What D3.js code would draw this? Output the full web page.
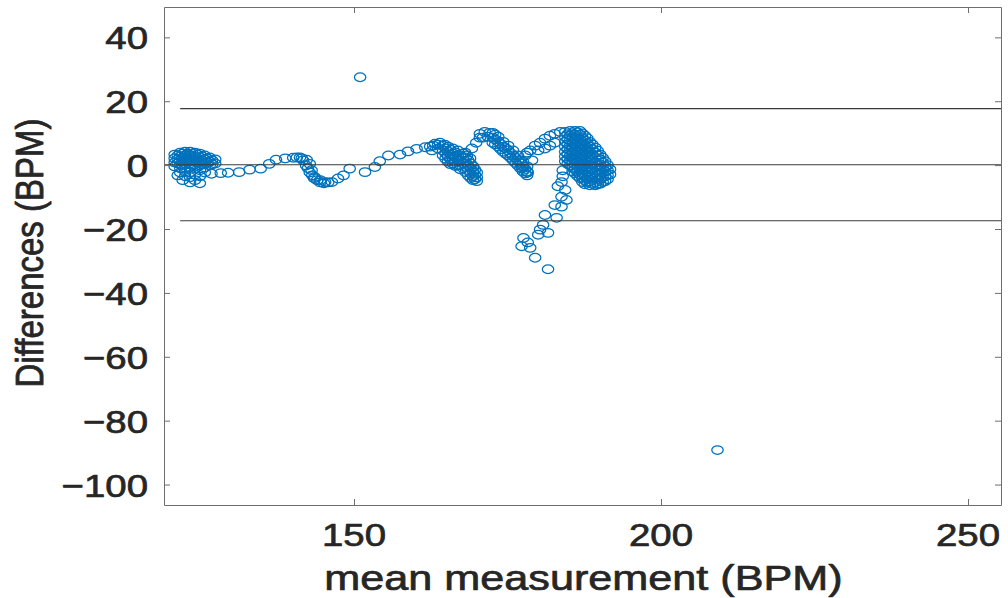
<!DOCTYPE html>
<html><head><meta charset="utf-8">
<script src="https://cdn.jsdelivr.net/npm/d3@7"></script>
<style>body{margin:0;background:#fff}svg{display:block}</style>
</head><body>
<svg id="chart" width="1008" height="598"></svg>
<script>
// ---- axis settings ----
const xTicks = [150, 200, 250];
const yTicks = [-100, -80, -60, -40, -20, 0, 20, 40];
const xDomain = [119.06, 255.37];
const yDomain = [-106.4, 49.5];
const xLabel = "mean measurement (BPM)";
const yLabel = "Differences (BPM)";

// ---- Bland-Altman reference lines ----
const meanDiff = 0.1;
const upperLoA = 17.7;
const lowerLoA = -17.4;
const loaStart = 121.7;

// ---- data: [mean measurement, difference] ----
const startCluster = [
  [120.8,3.3],[120.8,2.1],[120.8,0.8],[120.8,-0.4],
  [121.7,3.9],[121.7,2.7],[121.7,1.5],[121.7,0.2],[121.7,-1.0],[121.7,-2.3],
  [122.5,4.2],[122.5,3.0],[122.5,1.8],[122.5,0.5],[122.5,-0.7],[122.5,-2.0],[122.5,-3.5],
  [123.3,4.2],[123.3,3.0],[123.3,1.8],[123.3,0.5],[123.3,-0.7],[123.3,-2.3],[123.3,-3.8],
  [124.1,3.9],[124.1,2.7],[124.1,1.5],[124.1,0.2],[124.1,-1.0],[124.1,-2.9],[124.1,-4.7],
  [124.9,3.6],[124.9,2.4],[124.9,1.1],[124.9,-0.1],[124.9,-1.6],[124.9,-3.5],[124.9,-5.7],
  [125.7,3.0],[125.7,1.8],[125.7,0.5],[125.7,-0.7],[125.7,-2.3],
  [126.5,2.4],[126.5,1.1],[126.5,-0.1],
  [127.4,1.8],[127.4,0.5],
  [121.3,-3.2],[122.1,-4.7],[123.3,-5.4],
  [121.3,3.0],[122.1,3.6],[122.1,2.4],[122.9,3.6],[122.9,2.4],[122.9,1.2],
  [123.7,3.6],[123.7,2.4],[123.7,1.2],[123.7,0.0],[124.5,3.3],[124.5,2.1],[124.5,0.9],
  [125.3,2.7],[125.3,1.5],[125.3,0.3],[126.1,2.1],[126.1,0.9],[126.9,1.5],[126.9,0.3],
  [121.3,1.8],[121.3,0.6],[122.1,1.2],[122.1,0.0]
];
const firstWave = [
  [126.8,-2.7],[128.3,-2.5],[129.5,-2.4],[131.3,-2.2],[133.0,-1.4],[134.8,-1.1],
  [136.2,0.4],[137.3,1.7],[138.8,2.1],[140.1,2.3],[140.7,2.4],[141.2,2.4],[141.5,2.1],
  [141.7,1.5],[142.2,-0.1],[142.3,1.7],[142.5,-1.0],[142.8,0.4],[142.8,-2.3],[143.1,-1.6],
  [143.2,-3.2],[143.5,-4.1],[143.6,-3.7],[144.0,-4.7],[144.5,-4.7],[144.5,-5.4],[145.1,-5.7],
  [145.3,-5.3],[145.8,-5.4],[146.4,-5.3],[147.4,-4.2],[148.3,-3.2],[149.3,-1.1],[151.8,-2.2],
  [153.4,-0.6],[154.2,1.2],[155.6,3.0],[157.5,3.3],[158.8,4.3],[160.2,5.1],[161.6,5.6],
  [162.9,6.1],[163.7,6.4]
];
const descendingBand = [
  [162.4,5.8],[163.2,6.7],[164.0,7.0],[164.8,6.4],[162.7,4.6],[163.7,5.2],
  [164.5,6.1],[164.5,4.6],[164.5,3.0],
  [164.9,5.2],[164.9,3.7],[164.9,2.0],
  [165.3,5.8],[165.3,4.2],[165.3,2.7],[165.3,1.1],
  [165.7,4.8],[165.7,3.3],[165.7,1.8],[165.7,0.3],
  [166.1,5.2],[166.1,3.6],[166.1,2.1],[166.1,0.5],
  [166.5,4.0],[166.5,2.5],[166.5,1.0],[166.5,-0.3],
  [166.9,4.6],[166.9,3.0],[166.9,1.5],[166.9,-0.1],
  [167.3,3.0],[167.3,1.5],[167.3,0.0],[167.3,-1.3],
  [167.8,3.6],[167.8,2.1],[167.8,0.5],[167.8,-1.0],
  [168.2,2.4],[168.2,0.9],[168.2,-0.6],[168.2,-2.2],
  [168.6,1.5],[168.6,-0.1],[168.6,-1.6],[168.6,-3.2],
  [169.0,0.5],[169.0,-1.0],[169.0,-2.6],[169.0,-4.0],
  [169.4,-0.4],[169.4,-2.0],[169.4,-3.5],[169.4,-4.7],
  [169.7,-1.4],[169.7,-3.0],[169.7,-4.4],
  [170.0,-2.3],[170.0,-3.8],[170.0,-5.0]
];
const upwardArm = [
  [168.1,3.9],[168.4,3.0],[168.9,2.1],[169.2,5.2],[169.9,7.0],[170.5,8.6]
];
const peakBand = [
  [170.5,9.8],[171.3,10.4],[172.1,10.1],[173.0,9.5],[171.0,8.6],[171.8,8.9],
  [172.6,10.1],[172.6,8.6],[172.6,7.0],
  [173.0,8.0],[173.0,6.5],
  [173.5,8.9],[173.5,7.3],[173.5,5.8],
  [173.9,6.6],[173.9,5.0],
  [174.3,7.3],[174.3,5.8],[174.3,4.2],
  [174.7,5.3],[174.7,3.6],
  [175.1,6.1],[175.1,4.6],[175.1,3.0],
  [175.5,3.8],[175.5,2.3],
  [175.9,4.6],[175.9,3.0],[175.9,1.5],
  [176.3,2.3],[176.3,0.7],
  [176.7,3.0],[176.7,1.5],[176.7,-0.1],
  [177.1,0.6],[177.1,-1.0],
  [177.5,1.1],[177.5,-0.4],[177.5,-2.0],
  [177.9,-1.2],[177.9,-2.6],
  [178.2,-0.4],[178.2,-2.0],[178.2,-3.2]
];
const risingArc = [
  [177.0,1.5],[177.9,3.0],[178.2,3.9],[178.7,4.6],[179.0,1.5],[179.5,6.1],[180.0,4.6],
  [180.3,7.0],[181.1,8.3],[181.1,5.2],[181.9,9.2],[181.9,6.1],[182.7,9.8],[182.7,7.0],
  [183.6,10.4],[177.4,-1.0],[178.3,-2.3]
];
const denseBlock = [
  [184.4,10.4],[184.4,8.9],[184.4,7.3],[184.4,5.8],[184.4,4.2],[184.4,2.7],[184.4,1.2],
  [184.8,9.7],[184.8,8.1],[184.8,6.5],[184.8,5.0],[184.8,3.4],[184.8,1.9],[184.8,0.4],
  [185.2,10.7],[185.2,9.2],[185.2,7.7],[185.2,6.1],[185.2,4.6],[185.2,3.0],[185.2,1.5],[185.2,-0.1],
  [185.6,10.0],[185.6,8.5],[185.6,6.9],[185.6,5.4],[185.6,3.8],[185.6,2.3],[185.6,0.7],[185.6,-0.8],[185.6,-2.0],
  [186.0,10.7],[186.0,9.5],[186.0,8.0],[186.0,6.4],[186.0,4.9],[186.0,3.3],[186.0,1.8],[186.0,0.2],[186.0,-1.3],[186.0,-2.6],
  [186.4,10.2],[186.4,8.7],[186.4,7.2],[186.4,5.6],[186.4,4.1],[186.4,2.5],[186.4,1.0],[186.4,-0.5],[186.4,-2.1],[186.4,-3.4],
  [186.8,10.7],[186.8,9.5],[186.8,8.0],[186.8,6.4],[186.8,4.9],[186.8,3.3],[186.8,1.8],[186.8,0.2],[186.8,-1.3],[186.8,-2.9],[186.8,-4.1],
  [187.2,9.9],[187.2,8.4],[187.2,6.8],[187.2,5.3],[187.2,3.7],[187.2,2.2],[187.2,0.6],[187.2,-0.9],[187.2,-2.5],[187.2,-4.0],[187.2,-5.3],
  [187.6,9.2],[187.6,7.7],[187.6,6.1],[187.6,4.6],[187.6,3.0],[187.6,1.5],[187.6,-0.1],[187.6,-1.6],[187.6,-3.2],[187.6,-4.7],[187.6,-6.0],
  [188.0,8.4],[188.0,6.9],[188.0,5.3],[188.0,3.8],[188.0,2.2],[188.0,0.7],[188.0,-0.8],[188.0,-2.4],[188.0,-4.0],[188.0,-5.5],
  [188.4,7.3],[188.4,5.8],[188.4,4.2],[188.4,2.7],[188.4,1.2],[188.4,-0.4],[188.4,-2.0],[188.4,-3.5],[188.4,-5.1],[188.4,-6.3],
  [188.8,6.5],[188.8,5.0],[188.8,3.4],[188.8,1.9],[188.8,0.3],[188.8,-1.2],[188.8,-2.8],[188.8,-4.3],[188.8,-5.8],
  [189.3,5.5],[189.3,3.9],[189.3,2.4],[189.3,0.8],[189.3,-0.7],[189.3,-2.3],[189.3,-3.8],[189.3,-5.4],[189.3,-6.3],
  [189.7,4.5],[189.7,3.0],[189.7,1.5],[189.7,-0.1],[189.7,-1.6],[189.7,-3.1],[189.7,-4.6],[189.7,-6.0],
  [190.1,3.3],[190.1,1.8],[190.1,0.2],[190.1,-1.3],[190.1,-2.9],[190.1,-4.4],[190.1,-5.8],
  [190.5,2.3],[190.5,0.8],[190.5,-0.8],[190.5,-2.3],[190.5,-3.8],[190.5,-5.3],
  [190.9,1.2],[190.9,-0.4],[190.9,-2.0],[190.9,-3.5],[190.9,-5.0],
  [191.3,0.0],[191.3,-1.6],[191.3,-3.2],[191.3,-4.4],
  [191.7,-1.3],[191.7,-2.9]
];
const dropChain = [
  [184.0,-1.6],[184.0,-3.5],[183.8,-5.3],[183.2,-6.6],[184.4,-7.8],[183.8,-9.9],[184.6,-10.9],
  [182.7,-12.5],[183.8,-13.0],[181.1,-15.6],[183.0,-16.5],[180.8,-18.7],[180.3,-20.2],
  [181.6,-21.2],[180.0,-21.8],[177.6,-22.8],[178.3,-24.2],[177.3,-25.4],[178.7,-25.9],
  [179.5,-29.0],[181.6,-32.6]
];
const outliers = [[151.0,27.5],[209.2,-89.2]];

const allPoints = [].concat(startCluster, firstWave, descendingBand, upwardArm,
  peakBand, risingArc, denseBlock, dropChain, outliers);

// ---- layout ----
const svg = d3.select("#chart");
const m = {left:164, right:1001, top:7, bottom:505};
const x = d3.scaleLinear().domain(xDomain).range([m.left, m.right]);
const y = d3.scaleLinear().domain(yDomain).range([m.bottom, m.top]);
const axisColor = "#6e6e6e";
const textColor = "#262626";
const font = "'Liberation Sans', Arial, Helvetica, sans-serif";
const stretch = 1.2;

// markers
svg.append("g").selectAll("ellipse").data(allPoints).join("ellipse")
  .attr("cx", d => x(d[0])).attr("cy", d => y(d[1]))
  .attr("rx", 5.7).attr("ry", 4.3)
  .attr("fill", "none").attr("stroke", "#0072BD").attr("stroke-width", 1.25);

// reference lines
const refLines = [
  {v: meanDiff, from: xDomain[0]},
  {v: upperLoA, from: loaStart},
  {v: lowerLoA, from: loaStart}
];
svg.append("g").selectAll("line").data(refLines).join("line")
  .attr("x1", d => x(d.from)).attr("x2", x(xDomain[1]))
  .attr("y1", d => y(d.v)).attr("y2", d => y(d.v))
  .attr("stroke", "#3a3a3a").attr("stroke-width", 1.1);

// axes (box with inward ticks)
function styleAxis(g) {
  g.selectAll("path.domain").attr("stroke", axisColor).attr("stroke-width", 1);
  g.selectAll(".tick line").attr("stroke", axisColor).attr("stroke-width", 1);
}
svg.append("g").attr("transform", `translate(0,${m.bottom})`)
  .call(d3.axisBottom(x).tickValues(xTicks).tickSize(-6).tickSizeOuter(0).tickFormat(""))
  .call(styleAxis);
svg.append("g").attr("transform", `translate(0,${m.top})`)
  .call(d3.axisTop(x).tickValues(xTicks).tickSize(-6).tickSizeOuter(0).tickFormat(""))
  .call(styleAxis);
svg.append("g").attr("transform", `translate(${m.left},0)`)
  .call(d3.axisLeft(y).tickValues(yTicks).tickSize(-6).tickSizeOuter(0).tickFormat(""))
  .call(styleAxis);
svg.append("g").attr("transform", `translate(${m.right},0)`)
  .call(d3.axisRight(y).tickValues(yTicks).tickSize(-6).tickSizeOuter(0).tickFormat(""))
  .call(styleAxis);

const fmt = d3.format("d");
function heavy(sel) {
  sel.attr("font-family", font).attr("fill", textColor)
     .attr("stroke", textColor).attr("stroke-width", 0.7).attr("stroke-linejoin", "round");
}
// x tick labels
svg.append("g").selectAll("text").data(xTicks).join("text")
  .attr("transform", d => `translate(${x(d)},546) scale(${stretch},1)`)
  .attr("text-anchor", "middle").attr("font-size", 32)
  .call(heavy).text(d => fmt(d));
// y tick labels
svg.append("g").selectAll("text").data(yTicks).join("text")
  .attr("transform", d => `translate(148,${y(d) + 12}) scale(${stretch},1)`)
  .attr("text-anchor", "end").attr("font-size", 32)
  .call(heavy).text(d => fmt(d));

// axis titles
svg.append("text")
  .attr("transform", `translate(${(m.left + m.right) / 2 + 1},590) scale(${stretch},1)`)
  .attr("text-anchor", "middle").attr("font-size", 36)
  .call(heavy).text(xLabel);
svg.append("text")
  .attr("transform", `translate(29,253) scale(${stretch},1) rotate(-90)`)
  .attr("text-anchor", "middle").attr("font-size", 33)
  .attr("y", 12).call(heavy).text(yLabel);
</script>
</body></html>
